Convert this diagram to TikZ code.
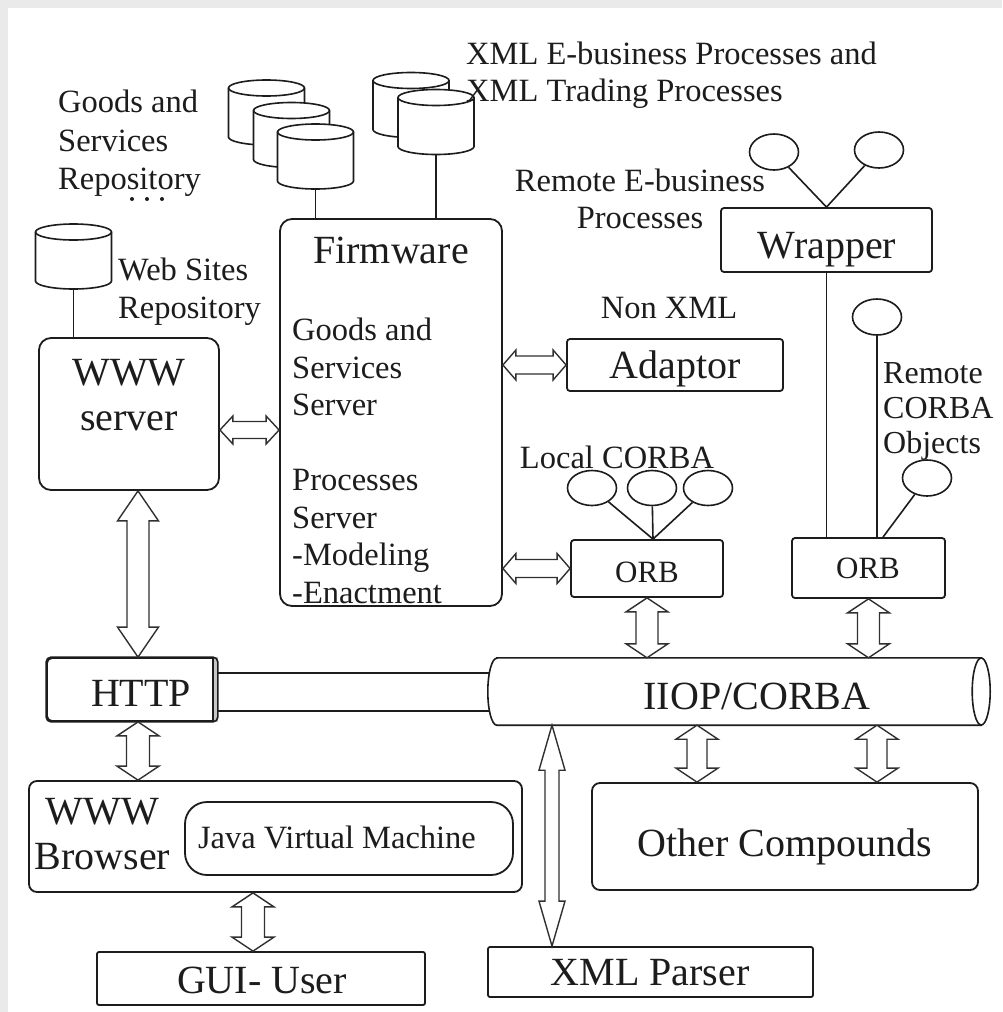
\documentclass[tikz,border=0pt]{standalone}
\usepackage{fontspec}
\setmainfont{Liberation Serif}
\usetikzlibrary{calc,shapes.geometric}
\definecolor{ink}{HTML}{1C1C1C}
\definecolor{arrowink}{HTML}{303030}
\definecolor{frame}{HTML}{EAEAEA}
\begin{document}
\begin{tikzpicture}[x=1pt,y=1pt,
  color=ink,
  big/.style={font=\fontsize{40}{45}\selectfont},
  mid/.style={font=\fontsize{32.5}{37.5}\selectfont},
  small/.style={font=\fontsize{31}{36}\selectfont},
  box/.style={draw=ink, line width=1.8pt, inner sep=0pt, fill=white},
  txt/.style={inner sep=0pt},
  link/.style={draw=ink, line width=1.6pt},
  obj/.style={ellipse, draw=ink, line width=1.6pt, inner sep=0pt,
              minimum width=49pt, minimum height=36pt},
  arr/.style={draw=arrowink, line width=1.4pt, fill=white, line join=miter},
  % outlined double-headed block arrow: shaft half width, head half width, head length
  dbl/.style n args={3}{to path={
    (\tikztostart)
    -- ($(\tikztostart)!#3!(\tikztotarget)!#2!90:(\tikztotarget)$)
    -- ($(\tikztostart)!#3!(\tikztotarget)!#1!90:(\tikztotarget)$)
    -- ($(\tikztotarget)!#3!(\tikztostart)!#1!-90:(\tikztostart)$)
    -- ($(\tikztotarget)!#3!(\tikztostart)!#2!-90:(\tikztostart)$)
    -- (\tikztotarget)
    -- ($(\tikztotarget)!#3!(\tikztostart)!#2!90:(\tikztostart)$)
    -- ($(\tikztotarget)!#3!(\tikztostart)!#1!90:(\tikztostart)$)
    -- ($(\tikztostart)!#3!(\tikztotarget)!#1!-90:(\tikztotarget)$)
    -- ($(\tikztostart)!#3!(\tikztotarget)!#2!-90:(\tikztotarget)$)
    -- cycle}},
  % database cylinder, origin at the centre of its top ellipse
  pics/dbcyl/.style={code={
    \draw[line width=1.6pt, fill=white] (-38,0) -- (-38,-49)
      arc[start angle=180, end angle=360, x radius=38, y radius=8] -- (38,0)
      arc[start angle=0, end angle=180, x radius=38, y radius=8] -- cycle;
    \draw[line width=1.6pt] (-38,0) arc[start angle=180, end angle=360, x radius=38, y radius=8];
    \coordinate (-bot) at (0,-57);
  }}
]
% page background with its light frame
\fill[white] (0,0) rectangle (1002,-1012);
\fill[frame] (0,0) rectangle (1002,-8);
\fill[frame] (0,0) rectangle (8,-1012);
\useasboundingbox (0,0) rectangle (1002,-1012);

% repositories
\pic (gs1) at (266.5,-88) {dbcyl};
\pic (gs2) at (291.5,-110.5) {dbcyl};
\pic (gs3) at (315.5,-132) {dbcyl};
\pic (xp1) at (411,-80.5) {dbcyl};
\pic (xp2) at (436,-97.5) {dbcyl};
\pic (web) at (73.5,-232) {dbcyl};
\fill (132,-199) circle (2) (147,-199) circle (2) (162,-199) circle (2);

% boxes
\node[box, rounded corners=12pt, minimum width=222pt, minimum height=387pt] (fw) at (391,-412.5) {};
\node[box, rounded corners=12pt, minimum width=180pt, minimum height=152pt] (www) at (129,-414) {};
\node[box, rounded corners=3pt, minimum width=216pt, minimum height=52pt] (adaptor) at (675,-365) {};
\node[box, rounded corners=3pt, minimum width=211pt, minimum height=64pt] (wrap) at (826.5,-240) {};
\node[box, rounded corners=3pt, minimum width=152pt, minimum height=57pt] (lorb) at (647,-568.5) {};
\node[box, rounded corners=3pt, minimum width=153pt, minimum height=60pt] (rorb) at (868.5,-568) {};
\node[box, rounded corners=5pt, minimum width=170pt, minimum height=63pt] (http) at (132,-689.5) {};
\node[inner sep=0pt, minimum width=502pt, minimum height=67pt] (iiop) at (739,-691.5) {};
\node[box, rounded corners=8pt, minimum width=493pt, minimum height=111pt] (browser) at (275.5,-836.5) {};
\node[box, rounded corners=22pt, minimum width=328pt, minimum height=73pt] (jvm) at (349,-838.5) {};
\node[box, rounded corners=8pt, minimum width=386pt, minimum height=107pt] (other) at (785,-836.5) {};
\node[box, rounded corners=2pt, minimum width=325pt, minimum height=50pt] (parser) at (650.5,-972) {};
\node[box, rounded corners=2pt, minimum width=328pt, minimum height=53pt] (gui) at (261,-978.5) {};

% shaded right end of the HTTP pipe
\fill[gray!45] ([xshift=-5pt]http.north east) rectangle (http.south east);
\draw[link, rounded corners=5pt] (http.north west) rectangle (http.south east);
\draw[link] ([xshift=-5pt]http.north east) -- ([xshift=-5pt]http.south east);

% IIOP/CORBA bus
\draw[link, fill=white] ([xshift=9pt]iiop.north west) -- ([xshift=-9pt]iiop.north east)
  -- ([xshift=-9pt]iiop.south east) -- ([xshift=9pt]iiop.south west)
  arc[start angle=270, end angle=90, x radius=9, y radius=33.5] -- cycle;
\draw[link, fill=white] ([xshift=-9pt]iiop.east) ellipse [x radius=9, y radius=33.5];
\coordinate (hp1) at ([yshift=16.5pt]http.east);
\coordinate (hp2) at ([yshift=-21.5pt]http.east);
\draw[link] (hp1) -- ($(iiop.west |- hp1)+(1.5,0)$);
\draw[link] (hp2) -- ($(iiop.west |- hp2)+(1.5,0)$);

% CORBA objects
\node[obj] (wc1) at (774,-152) {};
\node[obj] (wc2) at (879,-150) {};
\node[obj, minimum height=35pt] (lc1) at (592,-488) {};
\node[obj, minimum height=35pt] (lc2) at (652,-488) {};
\node[obj, minimum height=35pt] (lc3) at (708,-488) {};
\node[obj] (rc1) at (877,-317) {};
\node[obj] (rc2) at (927,-478) {};

% plain connectors
\draw[link] (gs3-bot) -- (gs3-bot |- fw.north);
\draw[link] (xp2-bot) -- (xp2-bot |- fw.north);
\draw[link] (web-bot) -- (web-bot |- www.north);
\draw[link] (wc1) -- (wrap.north);
\draw[link] (wc2) -- (wrap.north);
\coordinate (lhub) at ([xshift=6pt]lorb.north);
\draw[link] (lc1) -- (lhub);
\draw[link] (lc2) -- (lhub);
\draw[link] (lc3) -- (lhub);
\draw[link] (wrap.south) -- (wrap.south |- rorb.north);
\draw[link] (rc1) -- (rc1 |- rorb.north);
\coordinate (rhub) at ([xshift=14.5pt]rorb.north);
\draw[link] (rc2) -- (rhub);

% block arrows
\coordinate (a1) at ([yshift=-16pt]www.east);
\draw[arr, dbl={8.5pt}{14pt}{13pt}] (a1) to (a1 -| fw.west);
\draw[arr, dbl={9pt}{15pt}{13pt}] (adaptor.west -| fw.east) to (adaptor.west);
\draw[arr, dbl={9pt}{15pt}{13pt}] (lorb.west -| fw.east) to (lorb.west);
\coordinate (a4) at ([xshift=9pt]www.south);
\draw[arr, dbl={11pt}{20.5pt}{30pt}] (a4) to (a4 |- http.north);
\coordinate (a5) at ([xshift=6pt]http.south);
\draw[arr, dbl={11.5pt}{21pt}{14pt}] (a5) to (a5 |- browser.north);
\draw[arr, dbl={11pt}{21pt}{14pt}] (lorb.south) to (lorb.south |- iiop.north);
\draw[arr, dbl={11pt}{21pt}{14pt}] (rorb.south) to (rorb.south |- iiop.north);
\coordinate (a8) at ([xshift=-88pt]other.north);
\draw[arr, dbl={10pt}{21pt}{14pt}] (a8 |- iiop.south) to (a8);
\coordinate (a9) at ([xshift=92pt]other.north);
\draw[arr, dbl={10pt}{21pt}{14pt}] (a9 |- iiop.south) to (a9);
\coordinate (a10) at ([xshift=-98.5pt]parser.north);
\draw[arr, dbl={7pt}{13pt}{45pt}] (a10 |- iiop.south) to (a10);
\coordinate (a11) at ([xshift=-8pt]gui.north);
\draw[arr, dbl={11.5pt}{21pt}{14pt}] (a11 |- browser.south) to (a11);

% texts
\node[txt, big] (fwt) at (391,-250) {Firmware};
\node[txt, big, align=center] (wwwt) at (129,-395) {WWW\\server};
\node[txt, big] (adaptort) at (675,-369) {Adaptor};
\node[txt, big] (wrapt) at (827,-249.5) {Wrapper};
\node[txt, small] (lorbt) at (647,-572) {ORB};
\node[txt, small] (rorbt) at (868,-568) {ORB};
\node[txt, big] (httpt) at (141,-693) {HTTP};
\node[txt, big] (iiopt) at (757,-696) {IIOP/CORBA};
\node[txt, big, align=center] (wwwb) at (102.5,-834.5) {WWW\\Browser};
\node[txt, mid] (jvmt) at (337,-837) {Java Virtual Machine};
\node[txt, big] (othert) at (785,-847) {Other Compounds};
\node[txt, big] (parsert) at (650,-973) {XML Parser};
\node[txt, big] (guit) at (262,-980) {GUI- User};
\node[txt, font=\fontsize{32.5}{38.5}\selectfont, anchor=west, align=left] (gsr) at (58,-143.5) {Goods and\\Services\\Repository};
\node[txt, mid, anchor=west, align=left] (xmlp) at (466,-75) {XML E-business Processes and\\XML Trading Processes};
\node[txt, mid, anchor=west, align=left] (wsr) at (118,-291.5) {Web Sites\\Repository};
\node[txt, mid, anchor=west, align=left] (fwc) at (292,-461) {Goods and\\Services\\Server\\[37.5pt]Processes\\Server\\-Modeling\\-Enactment};
\node[txt, mid, align=center] (reb) at (640,-199) {Remote E-business\\Processes};
\node[txt, mid] (nonxml) at (669,-308) {Non XML};
\node[txt, mid] (lcorba) at (617,-457) {Local CORBA};
\node[txt, font=\fontsize{32}{35}\selectfont, anchor=west, align=left] (rcorba) at (883,-411) {Remote\\CORBA\\Objects};
\end{tikzpicture}
\end{document}
